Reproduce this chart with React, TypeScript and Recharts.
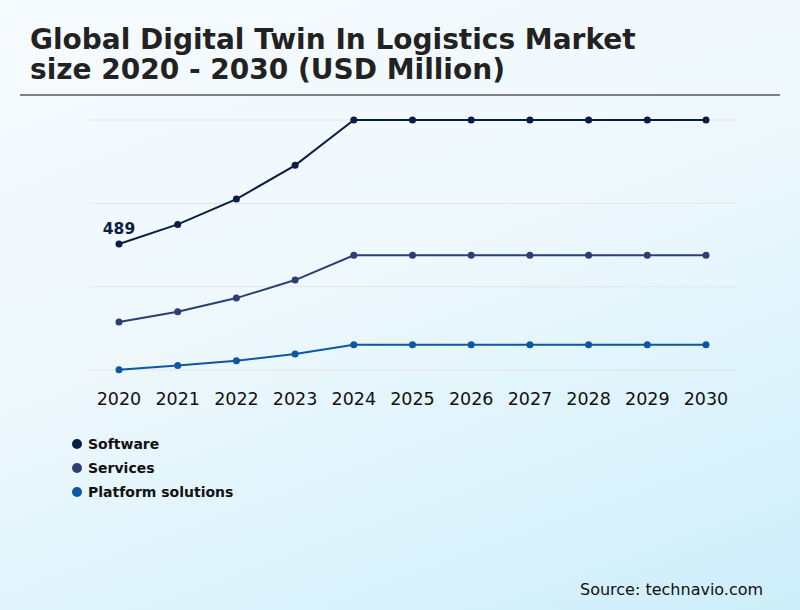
import React from "react";
import { LineChart, Line, XAxis, YAxis, CartesianGrid, LabelList } from "recharts";

const YEARS = ["2020", "2021", "2022", "2023", "2024", "2025", "2026", "2027", "2028", "2029", "2030"];
const SOFTWARE = [489, 565, 663, 794, 970, 970, 970, 970, 970, 970, 970];
const SERVICES = [186, 226, 279, 349, 445, 445, 445, 445, 445, 445, 445];
const PLATFORM = [1, 17, 36, 62, 98, 98, 98, 98, 98, 98, 98];
const Y_TICKS = [0, 323.33, 646.67, 970];
const TITLE_LINES = ["Global Digital Twin In Logistics Market", "size 2020 - 2030 (USD Million)"];

const SERIES = [
  { key: "software", name: "Software", color: "#0b1d45", values: SOFTWARE },
  { key: "services", name: "Services", color: "#2c3e74", values: SERVICES },
  { key: "platform", name: "Platform solutions", color: "#0b57a4", values: PLATFORM },
];

const data = YEARS.map((year, i) => ({
  year,
  software: SOFTWARE[i],
  services: SERVICES[i],
  platform: PLATFORM[i],
}));

const FONT = "'DejaVu Sans', Verdana, sans-serif";

const FirstLabel = (props: any) => {
  const { x, y, value, index } = props;
  if (index !== 0) return null;
  return (
    <text x={x} y={y - 10} textAnchor="middle" fontFamily={FONT} fontWeight="bold" fontSize={15.5} fill="#0b1d45">
      {value}
    </text>
  );
};

export default function App() {
  return (
    <div
      style={{
        position: "absolute",
        left: 0,
        top: 0,
        width: 800,
        height: 610,
        overflow: "hidden",
        background: "linear-gradient(160deg, #f6fbfe 0%, #eef8fd 45%, #cdeefa 100%)",
        fontFamily: FONT,
      }}
    >
      {TITLE_LINES.map((line, i) => (
        <div
          key={i}
          style={{
            position: "absolute",
            left: 30,
            top: 26.3 + i * 29.5,
            fontSize: 28,
            fontWeight: "bold",
            lineHeight: "28px",
            color: "#222",
            whiteSpace: "nowrap",
          }}
        >
          {line}
        </div>
      ))}
      <div style={{ position: "absolute", left: 20, top: 94, width: 760, height: 2, background: "#808080" }} />
      <div style={{ position: "absolute", left: 0, top: 0 }}>
        <LineChart width={800} height={610} data={data} margin={{ top: 120, right: 64, bottom: 210, left: 90 }}>
          <CartesianGrid vertical={false} stroke="#e4e4e4" />
          <XAxis
            dataKey="year"
            axisLine={false}
            tickLine={false}
            tickSize={0}
            tickMargin={23}
            interval={0}
            padding={{ left: 29, right: 30 }}
            tick={{ fontFamily: FONT, fontSize: 17.5, fill: "#111" }}
          />
          <YAxis hide domain={[0, 970]} ticks={Y_TICKS} />
          {SERIES.map((s) => (
            <Line
              key={s.key}
              dataKey={s.key}
              name={s.name}
              type="linear"
              stroke={s.color}
              strokeWidth={2}
              dot={{ r: 3.5, fill: s.color, stroke: s.color, strokeWidth: 0 }}
              activeDot={false}
              isAnimationActive={false}
            >
              {s.key === "software" ? <LabelList dataKey="software" content={<FirstLabel />} /> : null}
            </Line>
          ))}
        </LineChart>
      </div>
      <div style={{ position: "absolute", left: 72, top: 432, fontFamily: FONT }}>
        {SERIES.map((s) => (
          <div key={s.key} style={{ display: "flex", alignItems: "center", height: 24 }}>
            <span
              style={{
                display: "inline-block",
                width: 10,
                height: 10,
                borderRadius: 5,
                background: s.color,
                marginRight: 6,
              }}
            />
            <span style={{ fontWeight: "bold", fontSize: 14, color: "#111" }}>{s.name}</span>
          </div>
        ))}
      </div>
      <div style={{ position: "absolute", left: 580, top: 580, fontSize: 16, color: "#111" }}>Source: technavio.com</div>
    </div>
  );
}
